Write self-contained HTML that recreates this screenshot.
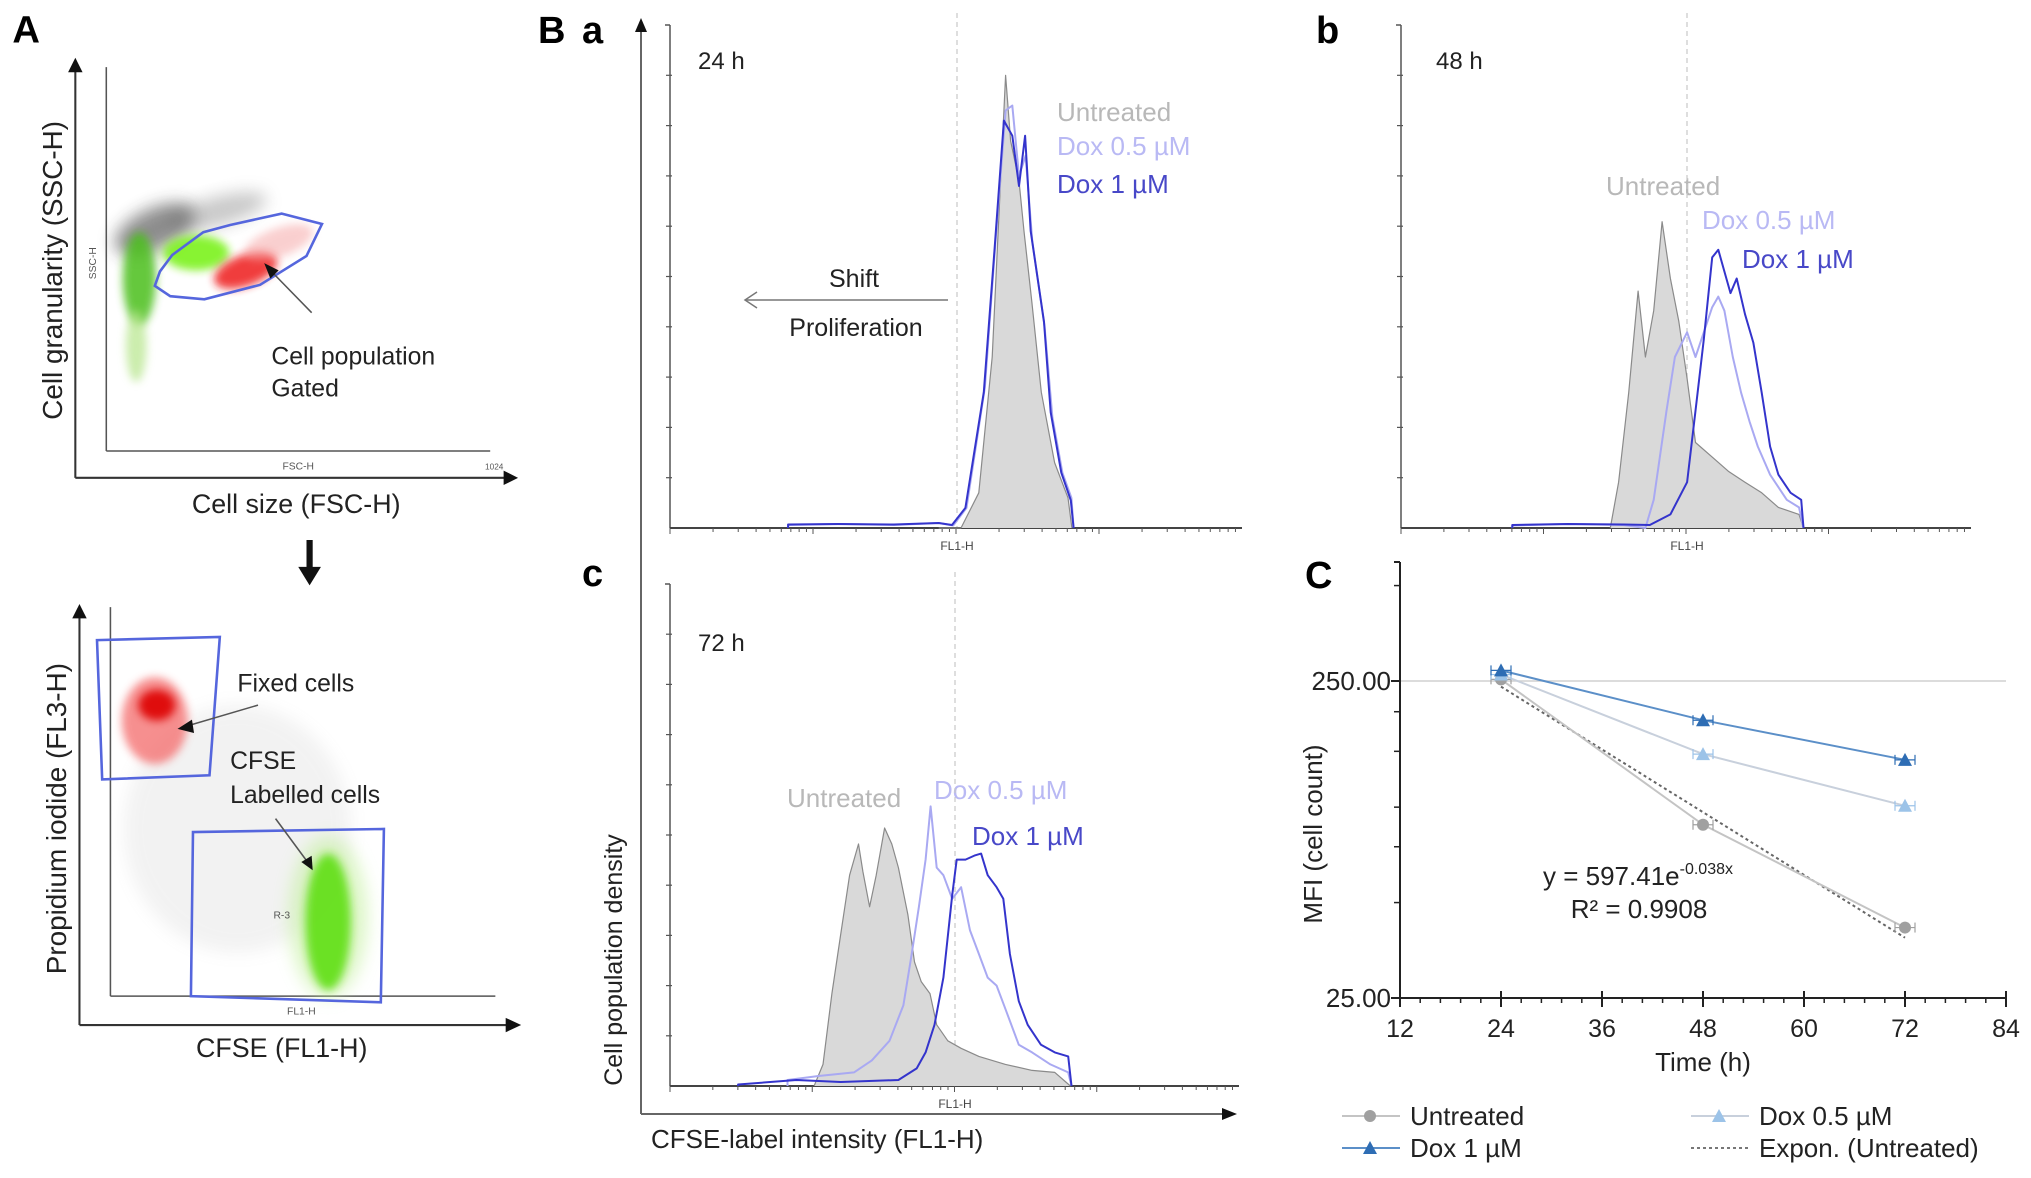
<!DOCTYPE html>
<html><head><meta charset="utf-8"><style>
html,body{margin:0;padding:0;background:#fff}
svg{display:block}
text{font-family:"Liberation Sans",Arial,sans-serif}
</style></head><body>
<svg id="fig" width="2031" height="1178" viewBox="0 0 2031 1178" xmlns="http://www.w3.org/2000/svg">
<defs>
<filter id="blur4" x="-50%" y="-50%" width="200%" height="200%"><feGaussianBlur stdDeviation="4"/></filter>
<filter id="blur8" x="-50%" y="-50%" width="200%" height="200%"><feGaussianBlur stdDeviation="8"/></filter>
</defs>

<!-- ===== Panel A top ===== -->
<g transform="scale(1.032)">
<text x="12" y="41" font-size="37" font-weight="bold">A</text>
<line x1="73" y1="463" x2="73" y2="66" stroke="#333" stroke-width="2"/>
<path d="M66,70 L73,56 L80,70 z" fill="#111"/>
<line x1="73" y1="463" x2="490" y2="463" stroke="#333" stroke-width="2"/>
<path d="M488,456 L502,463 L488,470 z" fill="#111"/>
<line x1="103" y1="65" x2="103" y2="437" stroke="#555" stroke-width="1.5"/>
<line x1="103" y1="437" x2="475" y2="437" stroke="#555" stroke-width="1.5"/>
<g>
<ellipse cx="150" cy="222" rx="42" ry="20" transform="rotate(-25 150 222)" fill="#333" opacity="0.55" filter="url(#blur8)"/>
<ellipse cx="210" cy="205" rx="50" ry="14" transform="rotate(-15 210 205)" fill="#666" opacity="0.35" filter="url(#blur8)"/>
<ellipse cx="135" cy="270" rx="16" ry="45" fill="#4bbf1a" opacity="0.85" filter="url(#blur4)"/>
<ellipse cx="132" cy="335" rx="10" ry="35" fill="#b5e58a" opacity="0.7" filter="url(#blur4)"/>
<ellipse cx="190" cy="245" rx="32" ry="17" fill="#7cf21f" opacity="0.9" filter="url(#blur4)"/>
<ellipse cx="238" cy="262" rx="32" ry="15" transform="rotate(-20 238 262)" fill="#ee1a1a" opacity="0.85" filter="url(#blur4)"/>
<ellipse cx="270" cy="235" rx="35" ry="14" transform="rotate(-20 270 235)" fill="#f5a0a0" opacity="0.5" filter="url(#blur4)"/>
</g>
<polygon points="273,207 312,217 297,248 252,276 198,290 165,287 150,277 155,263 167,247 197,225 223,218" fill="none" stroke="#5566dd" stroke-width="2.5"/>
<text x="263" y="353" font-size="24" fill="#222">Cell population</text>
<text x="263" y="384" font-size="24" fill="#222">Gated</text>
<line x1="302" y1="303" x2="262" y2="262" stroke="#555" stroke-width="1.5"/>
<path d="M256,255 L270,262 L262,270 z" fill="#111"/>
<text transform="translate(60,262) rotate(-90)" text-anchor="middle" font-size="27" fill="#222">Cell granularity (SSC-H)</text>
<text x="287" y="497" text-anchor="middle" font-size="26" fill="#222">Cell size (FSC-H)</text>
<text x="289" y="455" text-anchor="middle" font-size="10" fill="#555">FSC-H</text>
<text transform="translate(93,255) rotate(-90)" text-anchor="middle" font-size="10" fill="#555">SSC-H</text>
<text x="470" y="455" font-size="8" fill="#555">1024</text>
</g>

<!-- ===== Panel A bottom ===== -->
<g transform="translate(0,540) scale(1.032) translate(0,-540)">
<line x1="300" y1="540" x2="300" y2="570" stroke="#111" stroke-width="6"/>
<path d="M289,566 L311,566 L300,584 z" fill="#111"/>
<line x1="77" y1="1010" x2="77" y2="612" stroke="#333" stroke-width="2"/>
<path d="M70,616 L77,602 L84,616 z" fill="#111"/>
<line x1="77" y1="1010" x2="492" y2="1010" stroke="#333" stroke-width="2"/>
<path d="M490,1003 L505,1010 L490,1017 z" fill="#111"/>
<line x1="107" y1="605" x2="107" y2="982" stroke="#555" stroke-width="1.5"/>
<line x1="107" y1="982" x2="480" y2="982" stroke="#555" stroke-width="1.5"/>
<ellipse cx="230" cy="820" rx="110" ry="120" fill="#999" opacity="0.12" filter="url(#blur8)"/>
<ellipse cx="150" cy="715" rx="32" ry="42" fill="#f46a6a" opacity="0.75" filter="url(#blur4)"/>
<ellipse cx="152" cy="700" rx="18" ry="15" fill="#dd0000" opacity="0.9" filter="url(#blur4)"/>
<ellipse cx="318" cy="905" rx="38" ry="78" fill="#c5f0a0" opacity="0.6" filter="url(#blur8)"/>
<ellipse cx="318" cy="910" rx="22" ry="66" fill="#66e01a" opacity="0.95" filter="url(#blur4)"/>
<polygon points="94,637 213,634 203,768 99,772" fill="none" stroke="#5566dd" stroke-width="2.5"/>
<polygon points="187,823 372,820 369,988 185,982" fill="none" stroke="#5566dd" stroke-width="2.5"/>
<text x="230" y="687" font-size="24" fill="#222">Fixed  cells</text>
<text x="223" y="762" font-size="24" fill="#222">CFSE</text>
<text x="223" y="795" font-size="24" fill="#222">Labelled  cells</text>
<line x1="250" y1="700" x2="182" y2="720" stroke="#555" stroke-width="1.5"/>
<path d="M172,723 L186,714 L188,727 z" fill="#111"/>
<line x1="267" y1="810" x2="298" y2="852" stroke="#555" stroke-width="1.5"/>
<path d="M303,860 L292,852 L302,846 z" fill="#111"/>
<text x="265" y="907" font-size="10" fill="#555">R-3</text>
<text x="292" y="1000" text-anchor="middle" font-size="10" fill="#555">FL1-H</text>
<text transform="translate(64,810) rotate(-90)" text-anchor="middle" font-size="27" fill="#222">Propidium iodide (FL3-H)</text>
<text x="273" y="1041" text-anchor="middle" font-size="26" fill="#222">CFSE (FL1-H)</text>
</g>

<!-- ===== Panel B ===== -->
<g id="panelB">
<text x="538" y="43" font-size="38" font-weight="bold">B</text>
<text x="582" y="43" font-size="38" font-weight="bold">a</text>
<text x="1316" y="43" font-size="38" font-weight="bold">b</text>
<text x="582" y="586" font-size="38" font-weight="bold">c</text>
<line x1="641" y1="1114" x2="641" y2="30" stroke="#666" stroke-width="2"/>
<path d="M635,32 L641,18 L647,32 z" fill="#111"/>
<line x1="641" y1="1114" x2="1222" y2="1114" stroke="#666" stroke-width="2"/>
<path d="M1222,1108 L1237,1114 L1222,1120 z" fill="#111"/>
<text transform="translate(622,960) rotate(-90)" text-anchor="middle" font-size="25" fill="#222">Cell population density</text>
<text x="651" y="1148" font-size="26" fill="#222">CFSE-label intensity (FL1-H)</text>

<text x="698" y="69" font-size="24" fill="#222">24 h</text>
<text x="1436" y="69" font-size="24" fill="#222">48 h</text>
<text x="698" y="651" font-size="24" fill="#222">72 h</text>

<text x="854" y="287" text-anchor="middle" font-size="25" fill="#222">Shift</text>
<line x1="948" y1="300" x2="746" y2="300" stroke="#777" stroke-width="1.5"/>
<path d="M757,292 L745,300 L757,308" fill="none" stroke="#777" stroke-width="1.5"/>
<text x="856" y="336" text-anchor="middle" font-size="25" fill="#222">Proliferation</text>

<text x="1057" y="121" font-size="26" fill="#b8b8b8">Untreated</text>
<text x="1057" y="155" font-size="26" fill="#b9b9f4">Dox 0.5 µM</text>
<text x="1057" y="193" font-size="26" fill="#4848c8">Dox 1 µM</text>
<text x="1606" y="195" font-size="26" fill="#b8b8b8">Untreated</text>
<text x="1702" y="229" font-size="26" fill="#b9b9f4">Dox 0.5 µM</text>
<text x="1742" y="268" font-size="26" fill="#4848c8">Dox 1 µM</text>
<text x="787" y="807" font-size="26" fill="#b8b8b8">Untreated</text>
<text x="934" y="799" font-size="26" fill="#b9b9f4">Dox 0.5 µM</text>
<text x="972" y="845" font-size="26" fill="#4848c8">Dox 1 µM</text>
</g>

<!-- ===== Panel C ===== -->
<g id="panelC">
<text x="1305" y="588" font-size="38" font-weight="bold">C</text>
<text transform="translate(1322,834) rotate(-90)" text-anchor="middle" font-size="26" fill="#222">MFI (cell count)</text>
<text x="1703" y="1071" text-anchor="middle" font-size="26" fill="#222">Time (h)</text>
<text x="1638" y="885" text-anchor="middle" font-size="26" fill="#222">y = 597.41e<tspan font-size="16" dy="-11">-0.038x</tspan></text>
<text x="1639" y="918" text-anchor="middle" font-size="26" fill="#222">R² = 0.9908</text>
</g>
<g id="legendC"></g>
</svg>

<script>
// ---------- Panel B histogram data (channel 0-1024, count 0-100) ----------
const a_untreated_ch = [480,520,552,576,588,600,609,624,633,647,664,688,712,719];
const a_untreated_ct = [0,0,7,34,62,90,77,69,59,45,27,13,6,0];
const a_dox05_ch = [210,300,400,480,506,530,563,582,600,612,624,636,648,670,684,702,718,722];
const a_dox05_ct = [0.6,0.8,0.6,1,0.5,4,28,57,83,84,70,74,57,40,22,11,6,0];
const a_dox1_ch = [210,300,400,480,504,528,561,580,597,612,624,635,645,669,681,700,717,722];
const a_dox1_ct = [0.7,0.8,0.7,1,0.6,4,27,55,81,78,68,78,59,41,23,11,5.5,0];

const b_untreated_ch = [376,391,409,426,439,454,469,484,499,514,529,559,588,618,648,678,715,723];
const b_untreated_ct = [0,9.1,26.9,47.1,34,43.2,60.9,49.6,41.1,29.7,17,14.1,11.3,9.1,7,4.1,2.7,0];
const b_dox05_ch = [200,300,400,439,454,477,492,514,529,544,559,570,581,596,611,626,641,663,693,715,723];
const b_dox05_ct = [0.5,0.8,0.6,0,5.6,23.3,34,38.9,34,38.9,43.9,46,43.2,34,26.9,21.2,16.2,10.6,5.6,4.1,0];
const b_dox1_ch = [200,300,400,447,484,514,529,544,559,570,581,592,603,618,633,648,663,678,700,719,723];
const b_dox1_ct = [0.6,0.8,0.7,0.6,2.7,9.1,23.3,37.5,53.8,55.3,51,46.7,49.6,42.5,36.8,26.9,16.2,10.6,7,5.6,0];

const c_untreated_ch = [258,274,290,306,322,338,346,358,370,385,398,410,427,439,451,467,479,499,523,555,603,651,692,720];
const c_untreated_ct = [0,4.3,18.4,30.2,42,48.2,42.7,35.7,42,51.4,48.2,43.5,34.1,24.7,20.8,18.4,12.2,9,7.5,5.9,4.3,3.1,2.7,0];
const c_dox05_ch = [210,266,330,362,394,419,434,447,459,468,479,491,507,523,539,555,571,587,603,627,651,684,716,722];
const c_dox05_ct = [1.2,2,2.7,5.1,9,16.1,26.3,35.7,45.1,55.7,43.5,42,37.3,39.6,31,26.3,21.6,20,15.3,8.2,6.7,4.3,2.7,0];
const c_dox1_ch = [121,226,306,410,443,459,475,491,507,515,531,547,559,571,587,599,611,627,643,667,692,716,722];
const c_dox1_ct = [0.3,1.2,0.8,1.2,3.5,6.7,12.2,21.6,38,45.1,45.1,45.9,46.3,42,39.6,37.3,26.3,16.9,12.2,8.2,6.7,5.9,0];

// ---------- Panel C line chart data ----------
const timeCategories = [24,48,72];
const mfiUntreated = [253,88,41.7];
const mfiDox05 = [262,147,101];
const mfiDox1 = [270,188,141];
const trendA = 597.41;
const trendK = -0.038;
const xTickLabels = [12,24,36,48,60,72,84];
const yTickLabels = [25,250];

const NS = 'http://www.w3.org/2000/svg';
function mk(tag, attrs, parent){
  const e = document.createElementNS(NS, tag);
  for (const k in attrs) e.setAttribute(k, attrs[k]);
  parent.appendChild(e);
  return e;
}
const B = document.getElementById('panelB');

const panels = {
  a:{x0:671,x1:1242,base:528,top:25,axisX:670,dash:957},
  b:{x0:1401,x1:1971,base:528,top:25,axisX:1401,dash:1687},
  c:{x0:671,x1:1239,base:1086,top:584,axisX:670,dash:955}
};
function px(p,ch){return p.x0 + ch/1024*(p.x1-p.x0);}
function py(p,ct){return p.base - ct/100*(p.base-p.top);}

function drawAxes(p, key){
  const g = mk('g', {}, B);
  
  
  mk('line',{x1:p.dash,y1:p.top-12,x2:p.dash,y2:p.base,stroke:'#c8c8c8','stroke-width':1.2,'stroke-dasharray':'5,4'},g);
  mk('line',{x1:p.axisX,y1:p.top,x2:p.axisX,y2:p.base,stroke:'#555','stroke-width':1.5},g);
  mk('line',{x1:p.axisX,y1:p.top,x2:p.axisX-5,y2:p.top,stroke:'#555','stroke-width':1.5},g);
  mk('line',{x1:p.axisX,y1:p.base,x2:p.x1,y2:p.base,stroke:'#444','stroke-width':2},g);
  const n = 10, h = (p.base-p.top)/n;
  for(let i=1;i<n;i++){
    const y = p.top + i*h;
    mk('line',{x1:p.axisX-4,y1:y,x2:p.axisX+2,y2:y,stroke:'#555','stroke-width':1.2},g);
  }
  const decW = (p.x1-p.axisX)/4;
  for(let d=0; d<4; d++){
    for(let m=1; m<=9; m++){
      const x = p.axisX + d*decW + Math.log10(m)*decW;
      mk('line',{x1:x,y1:p.base,x2:x,y2:p.base+(m===1?6:4),stroke:'#555','stroke-width':1},g);
    }
  }
  const t = mk('text',{x:p.dash,y:p.base+22,'text-anchor':'middle','font-size':12,fill:'#444'},g);
  t.textContent = 'FL1-H';
}

function drawHist(p, chs, cts, fill, stroke, sw, name){
  let d = 'M' + px(p,chs[0]).toFixed(1) + ',' + p.base;
  for(let i=0;i<chs.length;i++) d += ' L' + px(p,chs[i]).toFixed(1) + ',' + py(p,cts[i]).toFixed(1);
  d += ' L' + px(p,chs[chs.length-1]).toFixed(1) + ',' + p.base;
  const e = mk('path',{d:d,fill:fill,stroke:stroke,'stroke-width':sw,'stroke-linejoin':'round'},B);
  
  
}

drawAxes(panels.a,'a'); drawAxes(panels.b,'b'); drawAxes(panels.c,'c');
drawHist(panels.a, a_untreated_ch, a_untreated_ct, '#d9d9d9', '#8a8a8a', 1.2, 'hist-24h-untreated');
drawHist(panels.a, a_dox05_ch, a_dox05_ct, 'none', '#a9a9f2', 2, 'hist-24h-dox05');
drawHist(panels.a, a_dox1_ch, a_dox1_ct, 'none', '#3434cc', 2, 'hist-24h-dox1');
drawHist(panels.b, b_untreated_ch, b_untreated_ct, '#d9d9d9', '#8a8a8a', 1.2, 'hist-48h-untreated');
drawHist(panels.b, b_dox05_ch, b_dox05_ct, 'none', '#a9a9f2', 2, 'hist-48h-dox05');
drawHist(panels.b, b_dox1_ch, b_dox1_ct, 'none', '#3434cc', 2, 'hist-48h-dox1');
drawHist(panels.c, c_untreated_ch, c_untreated_ct, '#d9d9d9', '#8a8a8a', 1.2, 'hist-72h-untreated');
drawHist(panels.c, c_dox05_ch, c_dox05_ct, 'none', '#a9a9f2', 2, 'hist-72h-dox05');
drawHist(panels.c, c_dox1_ch, c_dox1_ct, 'none', '#3434cc', 2, 'hist-72h-dox1');

// ---------- Panel C ----------
const C = document.getElementById('panelC');
const X0 = 1400, X1 = 2006, Y25 = 998, DEC = 317, YTOP = 562;
function xs(h){ return X0 + (h-12)/(84-12)*(X1-X0); }
function ys(v){ return Y25 - Math.log10(v/25)*DEC; }

mk('line',{x1:X0,y1:ys(250),x2:X1,y2:ys(250),stroke:'#d0d0d0','stroke-width':1.5},C);
mk('line',{x1:X0,y1:YTOP,x2:X0,y2:Y25,stroke:'#222','stroke-width':2},C);
mk('line',{x1:X0-6,y1:YTOP,x2:X0,y2:YTOP,stroke:'#222','stroke-width':2},C);
mk('line',{x1:X0,y1:Y25,x2:X1,y2:Y25,stroke:'#222','stroke-width':2},C);
[50,75,100,150,200,500].forEach(v=>{
  mk('line',{x1:X0-6,y1:ys(v),x2:X0,y2:ys(v),stroke:'#222','stroke-width':1.5},C);
});
yTickLabels.forEach(v=>{
  mk('line',{x1:X0-9,y1:ys(v),x2:X0,y2:ys(v),stroke:'#222','stroke-width':2},C);
  const t = mk('text',{x:X0-9,y:ys(v)+9,'text-anchor':'end','font-size':26,fill:'#222'},C);
  
  
  t.textContent = v.toFixed(2);
});
for(let h=12; h<=84; h+=2.4){
  mk('line',{x1:xs(h),y1:Y25,x2:xs(h),y2:Y25+5,stroke:'#222','stroke-width':1.5},C);
}
xTickLabels.forEach(h=>{
  mk('line',{x1:xs(h),y1:Y25-7,x2:xs(h),y2:Y25+9,stroke:'#222','stroke-width':2},C);
  const t = mk('text',{x:xs(h),y:Y25+39,'text-anchor':'middle','font-size':25,fill:'#222'},C);
  
  
  t.textContent = h;
});

function polyPts(vals){ return timeCategories.map((h,i)=>xs(h).toFixed(1)+','+ys(vals[i]).toFixed(1)).join(' '); }
const trendPts = [];
for(let h=timeCategories[0]; h<=timeCategories[timeCategories.length-1]; h+=2){
  trendPts.push(xs(h).toFixed(1)+','+ys(trendA*Math.exp(trendK*h)).toFixed(1));
}
const tl = mk('polyline',{points:trendPts.join(' '),fill:'none',stroke:'#666','stroke-width':2,'stroke-dasharray':'3,3'},C);



function series(vals, lineColor, markColor, shape, name){
  const l = mk('polyline',{points:polyPts(vals),fill:'none',stroke:lineColor,'stroke-width':2},C);
  
  
  timeCategories.forEach((h,i)=>{
    const x = xs(h), y = ys(vals[i]);
    mk('line',{x1:x-10,y1:y,x2:x+10,y2:y,stroke:markColor,'stroke-width':1.2},C);
    mk('line',{x1:x-10,y1:y-5,x2:x-10,y2:y+5,stroke:markColor,'stroke-width':1.2},C);
    mk('line',{x1:x+10,y1:y-5,x2:x+10,y2:y+5,stroke:markColor,'stroke-width':1.2},C);
    let m;
    if(shape==='circle') m = mk('circle',{cx:x,cy:y,r:6,fill:markColor},C);
    else m = mk('path',{d:`M${x-7},${y+6} L${x},${y-7} L${x+7},${y+6} z`,fill:markColor},C);
    
    
  });
}
series(mfiUntreated, '#c4c4c4', '#a0a0a0', 'circle', 'untreated');
series(mfiDox05, '#c8d0dc', '#9cc3e8', 'tri', 'dox05');
series(mfiDox1, '#5b8fc8', '#2e6db4', 'tri', 'dox1');

const L = document.getElementById('legendC');
function legendEntry(x, y, lineColor, markColor, shape, dashed, label, name){
  const g = mk('g',{},L);
  
  
  const la = {x1:x,y1:y,x2:x+58,y2:y,stroke:lineColor,'stroke-width':2};
  if(dashed) la['stroke-dasharray']='3,3';
  mk('line',la,g);
  if(shape==='circle') mk('circle',{cx:x+28,cy:y,r:6,fill:markColor},g);
  if(shape==='tri') mk('path',{d:`M${x+21},${y+6} L${x+28},${y-7} L${x+35},${y+6} z`,fill:markColor},g);
  const t = mk('text',{x:x+68,y:y+9,'font-size':26,fill:'#222'},g);
  t.textContent = label;
}
legendEntry(1342,1116,'#c4c4c4','#a0a0a0','circle',false,'Untreated','legend-untreated');
legendEntry(1342,1148,'#5b8fc8','#2e6db4','tri',false,'Dox 1 µM','legend-dox1');
legendEntry(1691,1116,'#c8d0dc','#9cc3e8','tri',false,'Dox 0.5 µM','legend-dox05');
legendEntry(1691,1148,'#777','none','none',true,'Expon. (Untreated)','legend-expon');
</script>
</body></html>
